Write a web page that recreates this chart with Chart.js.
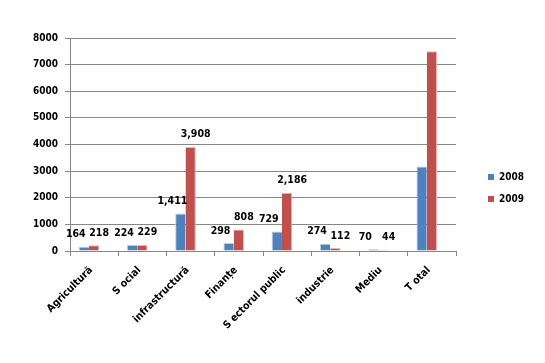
<!DOCTYPE html>
<html>
<head>
<meta charset="utf-8">
<script src="https://cdn.jsdelivr.net/npm/chart.js@4.4.1/dist/chart.umd.min.js"></script>
<style>
html,body{margin:0;padding:0;background:#fff;}
#c{display:block;}
</style>
</head>
<body>
<canvas id="c" width="545" height="363"></canvas>
<script>
const categories = ["Agricultură", "S ocial", "infrastructură", "Finanțe", "S ectorul public", "industrie", "Mediu", "T otal"];
const values2008 = [164, 224, 1411, 298, 729, 274, 70, 3170];
const values2009 = [218, 229, 3908, 808, 2186, 112, 44, 7505];
const labels2008 = ["164", "224", "1,411", "298", "729", "274", "70", null];
const labels2009 = ["218", "229", "3,908", "808", "2,186", "112", "44", null];
const emptySeries = [null, null, null, null, null, null, null, null];
const yTicks = [0, 1000, 2000, 3000, 4000, 5000, 6000, 7000, 8000];
const seriesNames = ["2008", "2009"];

const FONT = "'DejaVu Sans Condensed', 'DejaVu Sans', Verdana, sans-serif";
const gridGray = '#878787';

const valueLabels = {
  id: 'valueLabels',
  afterDatasetsDraw(chart) {
    const ctx = chart.ctx;
    ctx.save();
    ctx.font = 'bold 10.5px ' + FONT;
    ctx.fillStyle = '#000';
    ctx.textAlign = 'center';
    ctx.textBaseline = 'bottom';
    const sets = [labels2008, labels2009];
    const shifts = [-8, 5];
    sets.forEach((labs, di) => {
      const meta = chart.getDatasetMeta(di);
      meta.data.forEach((bar, i) => {
        if (labs[i] == null) return;
        ctx.fillText(labs[i], bar.x + shifts[di], bar.y - 7);
      });
    });
    ctx.restore();
  }
};

const customLegend = {
  id: 'customLegend',
  afterDraw(chart) {
    const ctx = chart.ctx;
    ctx.save();
    ctx.font = 'bold 10px ' + FONT;
    ctx.textAlign = 'left';
    ctx.textBaseline = 'middle';
    const colors = ['#4F81BD', '#C0504D'];
    const x = chart.chartArea.right + 32;
    const y0 = chart.chartArea.top + 139;
    seriesNames.forEach((name, i) => {
      const y = y0 + i * 22;
      ctx.fillStyle = colors[i];
      ctx.fillRect(x, y - 3, 6, 6);
      ctx.fillStyle = '#000';
      ctx.fillText(name, x + 11, y);
    });
    ctx.restore();
  }
};

new Chart(document.getElementById('c'), {
  type: 'bar',
  data: {
    labels: categories,
    datasets: [
      { label: seriesNames[0], data: values2008, backgroundColor: '#4F81BD', borderColor: '#B9CDE5', borderWidth: {left:1, right:0, top:1, bottom:0} },
      { label: seriesNames[1], data: values2009, backgroundColor: '#C0504D', borderColor: '#E6B9B8', borderWidth: {left:0, right:1, top:1, bottom:0} },
      { label: '', data: emptySeries, backgroundColor: 'rgba(0,0,0,0)' }
    ]
  },
  options: {
    responsive: false,
    animation: false,
    events: [],
    layout: { padding: { top: 38, right: 89, left: 0, bottom: 0 } },
    plugins: { legend: { display: false }, tooltip: { enabled: false } },
    datasets: { bar: { categoryPercentage: 0.64, barPercentage: 1.0 } },
    scales: {
      x: {
        offset: true,
        grid: { display: true, drawOnChartArea: false, drawTicks: true, tickLength: 5, color: gridGray, offset: true },
        border: { display: true, color: gridGray, width: 1 },
        ticks: { color: '#000', font: { family: FONT, size: 10.5, weight: 'bold' }, maxRotation: 45, minRotation: 45, autoSkip: false, padding: 8, labelOffset: -3 },
        afterFit(scale) { scale.height = 112; }
      },
      y: {
        min: 0, max: 8000,
        afterBuildTicks(scale) { scale.ticks = yTicks.map(v => ({ value: v })); },
        grid: { color: gridGray, lineWidth: 1, tickLength: 5, drawTicks: true },
        border: { display: true, color: gridGray, width: 1 },
        ticks: { color: '#000', font: { family: FONT, size: 10, weight: 'bold' }, padding: 7, callback: v => String(v) },
        afterFit(scale) { scale.width = 70; }
      }
    }
  },
  plugins: [valueLabels, customLegend]
});
</script>
</body>
</html>
